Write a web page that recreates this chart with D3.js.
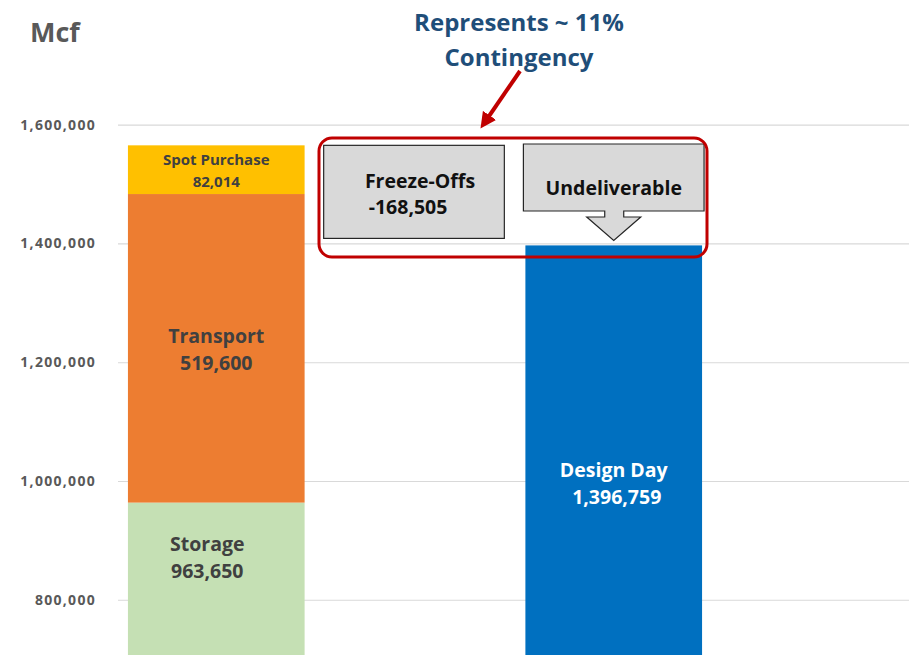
<!DOCTYPE html>
<html>
<head>
<meta charset="utf-8">
<script src="https://cdn.jsdelivr.net/npm/d3@7"></script>
<style>
  body { margin: 0; background: #fff; }
  text { font-family: "Open Sans", sans-serif; font-weight: bold; }
</style>
</head>
<body>
<div id="chart"></div>
<script>
const categories = ["Supply", "Gap", "Design Day"];
const supplyKeys = ["Storage", "Transport", "Spot Purchase"];
const supplyValues = [963650, 519600, 82014];
const supplyColors = ["#c5e0b4", "#ed7d31", "#ffc000"];
const freezeOffs = -168505;
const designDay = 1396759;
const yTicks = [800000, 1000000, 1200000, 1400000, 1600000];

const width = 909, height = 655;

const svg = d3.select("#chart").append("svg")
    .attr("width", width)
    .attr("height", height);

const x = d3.scaleBand()
    .domain(categories)
    .range([118, 712])
    .paddingInner(0.111)
    .paddingOuter(0.05);

const y = d3.scaleLinear()
    .domain([707000, 1810000])
    .range([height, 0]);

const fmt = d3.format(",");
const fmtNum = v => fmt(v).replace("\u2212", "-");

// gridlines + tick labels
const yAxis = svg.append("g")
    .attr("transform", "translate(118,0)")
    .call(d3.axisLeft(y).tickValues(yTicks).tickSize(-(width - 118)).tickFormat(fmtNum));
yAxis.select(".domain").remove();
yAxis.selectAll(".tick line").attr("stroke", "#d9d9d9").attr("stroke-width", 1.2);
yAxis.selectAll(".tick text")
    .attr("x", -22)
    .attr("fill", "#595959")
    .style("font-size", "14px")
    .style("letter-spacing", "1.3px")
    .style("font-family", "'Open Sans', sans-serif")
    .style("font-weight", "bold");

svg.append("text")
    .attr("x", 30).attr("y", 42)
    .attr("fill", "#595959")
    .style("font-size", "27px")
    .text("Mcf");

// stacked supply bar
let acc = 0;
const stack = supplyValues.map((v, i) => {
    const d = { key: supplyKeys[i], value: v, y0: acc, y1: acc + v, color: supplyColors[i] };
    acc += v;
    return d;
});
const total = acc;

svg.append("g").selectAll("rect")
    .data(stack)
    .join("rect")
    .attr("x", x("Supply"))
    .attr("width", x.bandwidth())
    .attr("y", d => y(d.y1))
    .attr("height", d => y(Math.max(d.y0, y.domain()[0])) - y(d.y1))
    .attr("fill", d => d.color);

// design day bar
svg.append("rect")
    .attr("x", x("Design Day"))
    .attr("width", x.bandwidth())
    .attr("y", y(designDay))
    .attr("height", height - y(designDay))
    .attr("fill", "#0070c0");

// labels on supply bar
const cx = x("Supply") + x.bandwidth() / 2;
const labelSpec = [
    { lines: ["Spot Purchase", fmtNum(supplyValues[2])], size: 15, y: 165, gap: 22, dx: 0 },
    { lines: ["Transport", fmtNum(supplyValues[1])], size: 19.5, y: 343, gap: 27, dx: 0 },
    { lines: ["Storage", fmtNum(supplyValues[0])], size: 19.5, y: 551, gap: 27, dx: -9 }
];
labelSpec.forEach(s => {
    s.lines.forEach((t, i) => {
        svg.append("text")
            .attr("x", cx + s.dx)
            .attr("y", s.y + i * s.gap)
            .attr("text-anchor", "middle")
            .attr("fill", "#404040")
            .style("font-size", s.size + "px")
            .text(t);
    });
});

const dx = x("Design Day") + x.bandwidth() / 2;
["Design Day", fmtNum(designDay)].forEach((t, i) => {
    svg.append("text")
        .attr("x", dx + (i ? 3 : 0))
        .attr("y", 477 + i * 27)
        .attr("text-anchor", "middle")
        .attr("fill", "#fff")
        .style("font-size", "19.5px")
        .text(t);
});

// freeze-offs box
const fx = x("Gap") - 3, fw = x.bandwidth() + 4;
const fTop = y(total), fBot = y(total + freezeOffs) - 7;
svg.append("rect")
    .attr("x", fx).attr("y", fTop)
    .attr("width", fw).attr("height", fBot - fTop)
    .attr("fill", "#d9d9d9")
    .attr("stroke", "#262626").attr("stroke-width", 1.2);
svg.append("text")
    .attr("x", fx + fw / 2 + 6).attr("y", 188)
    .attr("text-anchor", "middle")
    .attr("fill", "#111")
    .style("font-size", "19.5px")
    .text("Freeze-Offs");
svg.append("text")
    .attr("x", fx + 45).attr("y", 214)
    .attr("fill", "#111")
    .style("font-size", "19.5px")
    .text(fmtNum(freezeOffs));

// undeliverable callout
const ux = x("Design Day") - 2, uw = x.bandwidth() + 4;
const uTop = 144, uBot = 211, tip = y(designDay) - 5;
const ucx = ux + uw / 2;
const callout = [
    [ux, uTop], [ux + uw, uTop], [ux + uw, uBot],
    [ucx + 10, uBot], [ucx + 10, uBot + 6], [ucx + 27, uBot + 6],
    [ucx, tip],
    [ucx - 27, uBot + 6], [ucx - 9, uBot + 6], [ucx - 9, uBot],
    [ux, uBot]
];
svg.append("path")
    .attr("d", d3.line()(callout) + "Z")
    .attr("fill", "#d9d9d9")
    .attr("stroke", "#262626").attr("stroke-width", 1.2);
svg.append("text")
    .attr("x", ucx).attr("y", 195)
    .attr("text-anchor", "middle")
    .attr("fill", "#111")
    .style("font-size", "19.5px")
    .text("Undeliverable");

// red grouping outline
svg.append("rect")
    .attr("x", 319).attr("y", 138)
    .attr("width", 388).attr("height", 119)
    .attr("rx", 13)
    .attr("fill", "none")
    .attr("stroke", "#c00000").attr("stroke-width", 3);

// red arrow
svg.append("defs").append("marker")
    .attr("id", "head")
    .attr("viewBox", "0 0 10 10")
    .attr("refX", 5).attr("refY", 5)
    .attr("markerWidth", 4).attr("markerHeight", 4)
    .attr("orient", "auto")
    .append("path").attr("d", "M0,0L10,5L0,10Z").attr("fill", "#c00000");
svg.append("line")
    .attr("x1", 520).attr("y1", 71)
    .attr("x2", 485).attr("y2", 122)
    .attr("stroke", "#c00000").attr("stroke-width", 4)
    .attr("marker-end", "url(#head)");

// annotation title
["Represents ~ 11%", "Contingency"].forEach((t, i) => {
    svg.append("text")
        .attr("x", 519).attr("y", 31 + i * 35)
        .attr("text-anchor", "middle")
        .attr("fill", "#1f4e79")
        .style("font-size", "24px")
        .text(t);
});
</script>
</body>
</html>
